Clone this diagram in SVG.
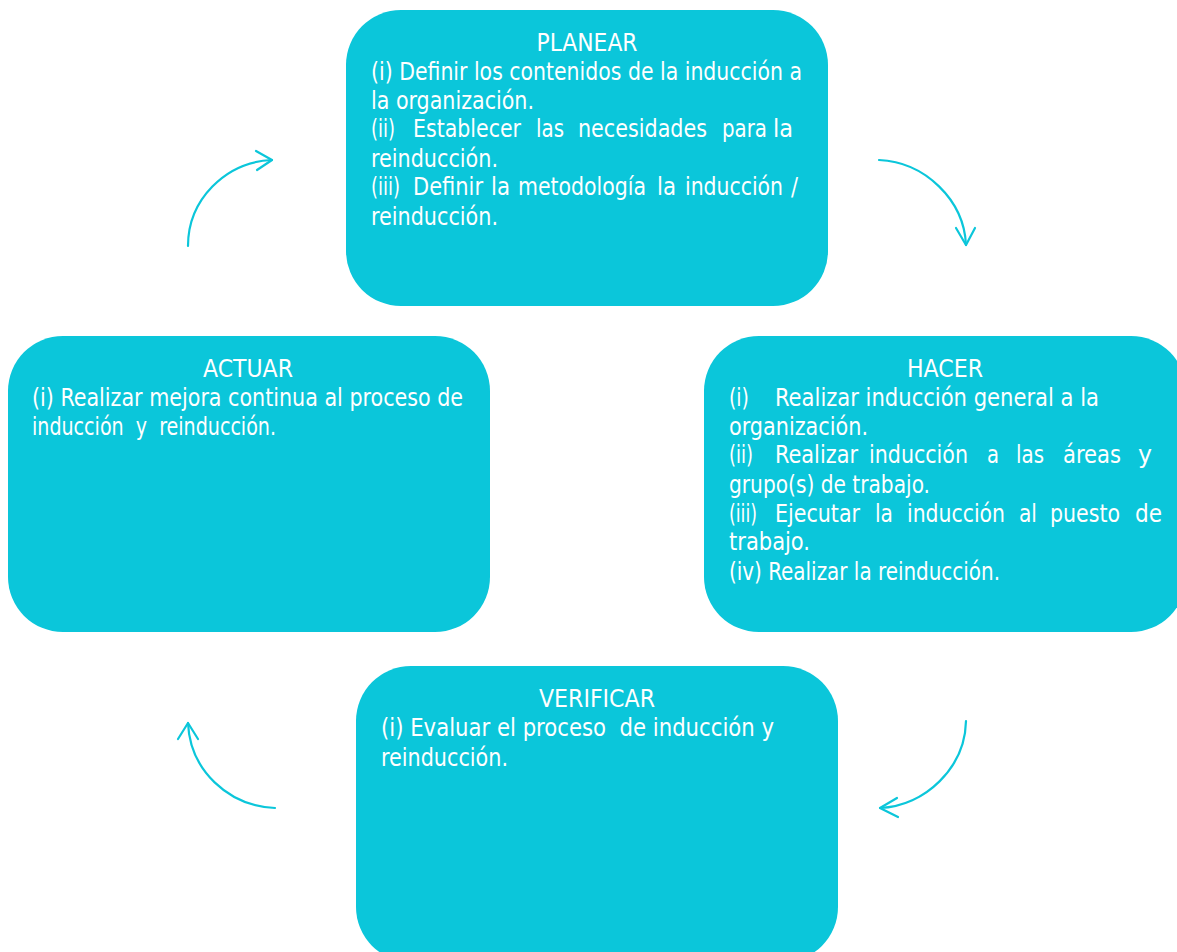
<svg xmlns="http://www.w3.org/2000/svg" width="1177" height="952" viewBox="0 0 1177 952">
  <style>
    .box { fill: #0bc6da; }
    .t { font-family: "DejaVu Sans Condensed", "DejaVu Sans", sans-serif; font-size: 25px; fill: #ffffff; }
    .c { text-anchor: middle; }
    .arc { fill: none; stroke: #0bc6da; stroke-width: 2.2; stroke-linecap: round; stroke-linejoin: round; }
  </style>
  <rect width="1177" height="952" fill="#ffffff"/>

  <!-- PLAN -->
  <g id="planear">
    <rect class="box" x="346" y="10" width="482" height="296" rx="55" ry="55"/>
    <text class="t c" x="587" y="51" textLength="101" lengthAdjust="spacingAndGlyphs">PLANEAR</text>
    <text class="t" x="371" y="80" textLength="431" lengthAdjust="spacingAndGlyphs">(i) Definir los contenidos de la inducción a</text>
    <text class="t" x="371" y="109" textLength="163" lengthAdjust="spacingAndGlyphs">la organización.</text>
    <text class="t" y="137"><tspan x="371" textLength="24" lengthAdjust="spacingAndGlyphs">(ii)</tspan><tspan x="413" textLength="108" lengthAdjust="spacingAndGlyphs">Establecer</tspan><tspan x="536" textLength="28" lengthAdjust="spacingAndGlyphs">las</tspan><tspan x="578" textLength="129" lengthAdjust="spacingAndGlyphs">necesidades</tspan><tspan x="722" textLength="45" lengthAdjust="spacingAndGlyphs">para</tspan><tspan x="773" textLength="20" lengthAdjust="spacingAndGlyphs">la</tspan></text>
    <text class="t" x="371" y="167" textLength="127" lengthAdjust="spacingAndGlyphs">reinducción.</text>
    <text class="t" y="195"><tspan x="371" textLength="29" lengthAdjust="spacingAndGlyphs">(iii)</tspan><tspan x="413" textLength="70" lengthAdjust="spacingAndGlyphs">Definir</tspan><tspan x="491" textLength="19" lengthAdjust="spacingAndGlyphs">la</tspan><tspan x="518" textLength="128" lengthAdjust="spacingAndGlyphs">metodología</tspan><tspan x="657" textLength="19" lengthAdjust="spacingAndGlyphs">la</tspan><tspan x="685" textLength="98" lengthAdjust="spacingAndGlyphs">inducción</tspan><tspan x="791" textLength="7" lengthAdjust="spacingAndGlyphs">/</tspan></text>
    <text class="t" x="371" y="225" textLength="127" lengthAdjust="spacingAndGlyphs">reinducción.</text>
  </g>

  <!-- DO -->
  <g id="hacer">
    <rect class="box" x="704" y="336" width="482" height="296" rx="55" ry="55"/>
    <text class="t c" x="945" y="377" textLength="76" lengthAdjust="spacingAndGlyphs">HACER</text>
    <text class="t" y="406"><tspan x="729" textLength="20" lengthAdjust="spacingAndGlyphs">(i)</tspan><tspan x="775" textLength="324" lengthAdjust="spacingAndGlyphs">Realizar inducción general a la</tspan></text>
    <text class="t" x="729" y="435" textLength="139" lengthAdjust="spacingAndGlyphs">organización.</text>
    <text class="t" y="463"><tspan x="729" textLength="24" lengthAdjust="spacingAndGlyphs">(ii)</tspan><tspan x="775" textLength="83" lengthAdjust="spacingAndGlyphs">Realizar</tspan><tspan x="869" textLength="99" lengthAdjust="spacingAndGlyphs">inducción</tspan><tspan x="987" textLength="12" lengthAdjust="spacingAndGlyphs">a</tspan><tspan x="1016" textLength="28" lengthAdjust="spacingAndGlyphs">las</tspan><tspan x="1063" textLength="58" lengthAdjust="spacingAndGlyphs">áreas</tspan><tspan x="1138" textLength="14" lengthAdjust="spacingAndGlyphs">y</tspan></text>
    <text class="t" x="729" y="493" textLength="201" lengthAdjust="spacingAndGlyphs">grupo(s) de trabajo.</text>
    <text class="t" y="522"><tspan x="729" textLength="28" lengthAdjust="spacingAndGlyphs">(iii)</tspan><tspan x="775" textLength="85" lengthAdjust="spacingAndGlyphs">Ejecutar</tspan><tspan x="875" textLength="18" lengthAdjust="spacingAndGlyphs">la</tspan><tspan x="907" textLength="98" lengthAdjust="spacingAndGlyphs">inducción</tspan><tspan x="1019" textLength="18" lengthAdjust="spacingAndGlyphs">al</tspan><tspan x="1050" textLength="70" lengthAdjust="spacingAndGlyphs">puesto</tspan><tspan x="1135" textLength="27" lengthAdjust="spacingAndGlyphs">de</tspan></text>
    <text class="t" x="729" y="550" textLength="81" lengthAdjust="spacingAndGlyphs">trabajo.</text>
    <text class="t" x="729" y="580" textLength="271" lengthAdjust="spacingAndGlyphs">(iv) Realizar la reinducción.</text>
  </g>

  <!-- ACT -->
  <g id="actuar">
    <rect class="box" x="8" y="336" width="482" height="296" rx="55" ry="55"/>
    <text class="t c" x="248" y="377" textLength="90" lengthAdjust="spacingAndGlyphs">ACTUAR</text>
    <text class="t" x="32" y="406" textLength="431" lengthAdjust="spacingAndGlyphs">(i) Realizar mejora continua al proceso de</text>
    <text class="t" x="32" y="435" textLength="244" lengthAdjust="spacingAndGlyphs" xml:space="preserve">inducción  y  reinducción.</text>
  </g>

  <!-- CHECK -->
  <g id="verificar">
    <rect class="box" x="356" y="666" width="482" height="296" rx="55" ry="55"/>
    <text class="t c" x="597" y="707" textLength="116" lengthAdjust="spacingAndGlyphs">VERIFICAR</text>
    <text class="t" x="381" y="736" textLength="393" lengthAdjust="spacingAndGlyphs" xml:space="preserve">(i) Evaluar el proceso  de inducción y</text>
    <text class="t" x="381" y="766" textLength="127" lengthAdjust="spacingAndGlyphs">reinducción.</text>
  </g>

  <!-- cycle arrows -->
  <g id="connectors">
    <path class="arc" d="M188,246 C188,200 225,162 272,160"/>
    <path class="arc" d="M256,151 L272,160 L257,170"/>
    <path class="arc" d="M879,160 C925,162 964,200 966,245"/>
    <path class="arc" d="M956,228 L966,245 L975,228"/>
    <path class="arc" d="M966,721 C965,768 925,806 880,808"/>
    <path class="arc" d="M897,798 L880,808 L898,817"/>
    <path class="arc" d="M275,808 C228,806 190,770 188,723"/>
    <path class="arc" d="M178,739 L188,723 L198,739"/>
  </g>
</svg>
